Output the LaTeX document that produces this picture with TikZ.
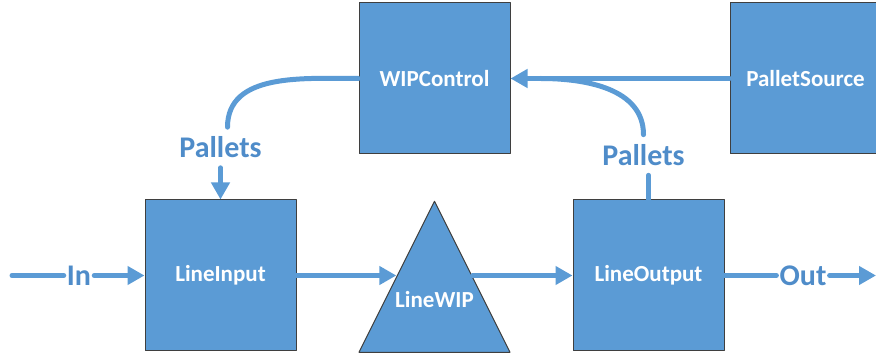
\documentclass[tikz,border=0pt]{standalone}
\usepackage{fontspec}
\setmainfont{Carlito}
\usetikzlibrary{arrows.meta,shapes.geometric}

\definecolor{boxblue}{HTML}{5B9BD5}
\definecolor{lblblue}{HTML}{4F8CC9}
\definecolor{rim}{HTML}{3F3F3F}

\begin{document}
\begin{tikzpicture}[x=1pt, y=1pt, line cap=round, line join=round,
		>={Triangle[length=17pt,width=18pt]},
		block/.style={draw=rim, line width=1pt, fill=boxblue, minimum size=\B,
			inner sep=0pt, text=white, font=\fontsize{23}{26}\selectfont\bfseries},
		flow/.style={draw=boxblue, line width=5pt},
		lbl/.style={text=lblblue, font=\fontsize{30}{34}\selectfont\bfseries,
			inner xsep=3pt, inner ysep=9.5pt}]
		
		% --- Parameter ---
		\pgfmathsetmacro{\B}{151}   % Kantenlaenge der Bausteine
		\pgfmathsetmacro{\R}{80.5}  % Hoehe der Materiallinie
		\pgfmathsetmacro{\T}{277.5} % Hoehe der oberen Reihe
		
		\useasboundingbox (0,0) rectangle (876,356);
		
		% --- Bausteine ---
		\node[block] (wipcontrol) at (434.5,\T) {WIPControl};
		\node[block] (palletsource) at (805.5,\T) {PalletSource};
		\node[block] (lineinput) at (220.5,\R) {LineInput};
		\node[block] (lineoutput) at (648.5,\R) {LineOutput};
		\node[draw=rim, line width=1pt, fill=boxblue, isosceles triangle,
			isosceles triangle stretches, shape border rotate=90,
			minimum width=\B, minimum height=\B, inner sep=0pt, anchor=apex]
			(linewip) at (434.5,156) {};
		\node[text=white, font=\fontsize{23}{26}\selectfont\bfseries]
			(wiptext) at (434.5,56) {LineWIP};
		
		% --- Beschriftungen ---
		\coordinate (instart) at (12,\R);
		\coordinate (outend) at (876,\R);
		\node[lbl] (inlbl) at (79,\R) {In};
		\node[lbl] (outlbl) at (803,\R) {Out};
		\node[lbl] (palletsin) at (220.5,208.5) {Pallets};
		\node[lbl] (palletsout) at (643.5,201) {Pallets};
		
		% --- Materialfluss ---
		\draw[flow] (instart) -- (inlbl.west);
		\draw[flow,->] (inlbl.east) -- (lineinput.west);
		\draw[flow,->] (lineinput.east) -- (lineinput.east -| linewip.left side);
		\draw[flow,->] (lineoutput.west -| linewip.right side) -- (lineoutput.west);
		\draw[flow] (lineoutput.east) -- (outlbl.west);
		\draw[flow,->] (outlbl.east) -- (outend);
		
		% --- Palettenkreislauf ---
		\draw[flow,->] (palletsource.west) -- (wipcontrol.east);
		\draw[flow] (lineoutput.north) -- (lineoutput.north |- palletsout.south);
		\draw[flow] (palletsout.north) to[out=90,in=0] ([xshift=30pt]wipcontrol.east);
		\draw[flow] (wipcontrol.west) to[out=180,in=90] ([xshift=7pt]palletsin.north);
		\draw[flow,->] (palletsin.south) -- (lineinput.north);
		
	\end{tikzpicture}
\end{document}
